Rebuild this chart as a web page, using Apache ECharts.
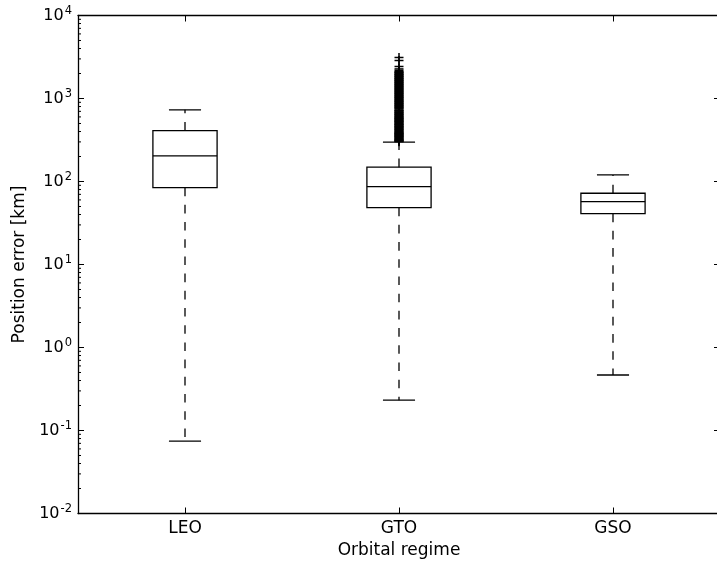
<!DOCTYPE html>
<html>
<head>
<meta charset="utf-8">
<script src="https://cdn.jsdelivr.net/npm/echarts@6/dist/echarts.min.js"></script>
<style>
  html, body { margin: 0; padding: 0; background: #fff; }
  #chart { width: 717px; height: 567px; }
</style>
</head>
<body>
<div id="chart"></div>
<script>
// Orbital regimes and their position-error box statistics (km)
const regimes = ['LEO', 'GTO', 'GSO'];
const whiskerLow = [0.0745, 0.232, 0.466];
const lowerQuartile = [84.4, 48.4, 41.0];
const medianError = [204, 86.7, 57.2];
const upperQuartile = [411, 149, 72.2];
const whiskerHigh = [730, 298, 120];

// Outliers beyond the upper whisker of the GTO regime (km)
const gtoOutliers = [302, 306, 309, 313, 317, 321, 326, 330, 336, 341, 347, 351, 355, 361, 366,
  372, 376, 380, 386, 391, 399, 405, 412, 420, 426, 433, 441, 448, 455, 461, 467, 478, 484, 490,
  498, 506, 517, 524, 531, 540, 548, 559, 566, 575, 583, 590, 604, 613, 622, 637, 646, 655, 671,
  680, 690, 708, 716, 726, 748, 765, 777, 789, 806, 819, 832, 851, 863, 877, 899, 911, 925, 948,
  960, 977, 1003, 1019, 1031, 1060, 1074, 1088, 1121, 1137, 1150, 1183, 1199, 1215, 1249, 1266,
  1286, 1318, 1337, 1357, 1392, 1411, 1434, 1470, 1490, 1512, 1553, 1574, 1597, 1640, 1661,
  1688, 1731, 1755, 1782, 1830, 1856, 1884, 1935, 1960, 1990, 2048, 2075, 2105, 2180, 2270,
  2430, 2870, 3120];
const outlierRegime = 'GTO';

// Log axis range (decades)
const yMin = 0.01;
const yMax = 10000;

const FONT = 'DejaVu Sans';
const LW = 1.3;

const boxData = regimes.map((r, i) =>
  [i, whiskerLow[i], lowerQuartile[i], medianError[i], upperQuartile[i], whiskerHigh[i]]);
const outlierIdx = regimes.indexOf(outlierRegime);
const outlierData = gtoOutliers.map(v => [outlierIdx, v]);

// minor tick positions: 2..9 x 10^k inside the axis range
const minorTickData = [];
for (let k = Math.round(Math.log10(yMin)); k < Math.round(Math.log10(yMax)); k++) {
  for (let m = 2; m <= 9; m++) minorTickData.push([0, m * Math.pow(10, k)]);
}

function renderBox(params, api) {
  const i = api.value(0);
  const lo = api.coord([i, api.value(1)]);
  const q1 = api.coord([i, api.value(2)]);
  const md = api.coord([i, api.value(3)]);
  const q3 = api.coord([i, api.value(4)]);
  const hi = api.coord([i, api.value(5)]);
  const band = api.coord([1, api.value(3)])[0] - api.coord([0, api.value(3)])[0];
  const half = band * 0.15, cap = band * 0.075;
  const x = q1[0];
  const solid = { stroke: '#000', lineWidth: LW, fill: 'none' };
  const dashed = { stroke: '#000', lineWidth: LW, fill: 'none', lineDash: [8.6, 8.6] };
  return {
    type: 'group',
    children: [
      { type: 'rect', shape: { x: x - half, y: q3[1], width: 2 * half, height: q1[1] - q3[1] }, style: solid },
      { type: 'line', shape: { x1: x - half, y1: md[1], x2: x + half, y2: md[1] }, style: solid },
      { type: 'line', shape: { x1: x, y1: q1[1], x2: x, y2: lo[1] }, style: dashed },
      { type: 'line', shape: { x1: x, y1: q3[1], x2: x, y2: hi[1] }, style: dashed },
      { type: 'line', shape: { x1: x - cap, y1: lo[1], x2: x + cap, y2: lo[1] }, style: solid },
      { type: 'line', shape: { x1: x - cap, y1: hi[1], x2: x + cap, y2: hi[1] }, style: solid }
    ]
  };
}

function renderPlus(params, api) {
  const p = api.coord([api.value(0), api.value(1)]);
  const h = 4.5;
  const st = { stroke: '#000', lineWidth: 1.5 };
  return {
    type: 'group',
    children: [
      { type: 'line', shape: { x1: p[0] - h, y1: p[1], x2: p[0] + h, y2: p[1] }, style: st },
      { type: 'line', shape: { x1: p[0], y1: p[1] - h, x2: p[0], y2: p[1] + h }, style: st }
    ]
  };
}

function renderMinorTick(params, api) {
  const cs = params.coordSys;
  const y = api.coord([0, api.value(1)])[1];
  const st = { stroke: '#000', lineWidth: 1 };
  const len = 3;
  return {
    type: 'group',
    children: [
      { type: 'line', shape: { x1: cs.x, y1: y, x2: cs.x + len, y2: y }, style: st },
      { type: 'line', shape: { x1: cs.x + cs.width - len, y1: y, x2: cs.x + cs.width, y2: y }, style: st }
    ]
  };
}

const chart = echarts.init(document.getElementById('chart'), null, { renderer: 'canvas' });

const tickStyle = { show: true, inside: true, length: 6, lineStyle: { color: '#000', width: 1 } };
const lineStyle = { show: true, lineStyle: { color: '#000', width: LW } };

chart.setOption({
  animation: false,
  backgroundColor: '#fff',
  textStyle: { fontFamily: FONT, color: '#000' },
  grid: { left: 78, top: 15.5, width: 642, height: 498, containLabel: false, outerBoundsMode: 'none' },
  xAxis: [
    {
      type: 'category', data: regimes, position: 'bottom',
      axisLine: lineStyle,
      axisTick: Object.assign({ alignWithLabel: true }, tickStyle),
      axisLabel: { color: '#000', fontSize: 17, fontFamily: FONT, margin: 7 },
      splitLine: { show: false },
      name: 'Orbital regime', nameLocation: 'middle', nameGap: 27,
      nameTextStyle: { color: '#000', fontSize: 17, fontFamily: FONT }
    },
    {
      type: 'category', data: regimes, position: 'top',
      axisLine: lineStyle,
      axisTick: Object.assign({ alignWithLabel: true }, tickStyle),
      axisLabel: { show: false },
      splitLine: { show: false }
    }
  ],
  yAxis: [
    {
      type: 'log', logBase: 10, min: yMin, max: yMax, interval: 1, position: 'left',
      axisLine: lineStyle,
      axisTick: tickStyle,
      splitLine: { show: false },
      axisLabel: {
        margin: 6,
        formatter: v => '{b|10}{s|' + Math.round(Math.log10(v)) + '}',
        rich: {
          b: { fontSize: 16, fontFamily: FONT, color: '#000', lineHeight: 20 },
          s: { fontSize: 11.5, fontFamily: FONT, color: '#000', lineHeight: 8, verticalAlign: 'top', padding: [0, 0, 0, 1] }
        }
      },
      name: 'Position error [km]', nameLocation: 'middle', nameGap: 47,
      nameTextStyle: { color: '#000', fontSize: 17, fontFamily: FONT }
    },
    {
      type: 'log', logBase: 10, min: yMin, max: yMax, interval: 1, position: 'right',
      axisLine: lineStyle,
      axisTick: tickStyle,
      splitLine: { show: false },
      axisLabel: { show: false }
    }
  ],
  series: [
    {
      type: 'custom', name: 'minor ticks', silent: true, clip: false,
      xAxisIndex: 0, yAxisIndex: 0,
      encode: { x: 0, y: 1 },
      data: minorTickData, renderItem: renderMinorTick
    },
    {
      type: 'custom', name: 'boxes', silent: true,
      xAxisIndex: 0, yAxisIndex: 0,
      encode: { x: 0, y: [1, 2, 3, 4, 5] },
      data: boxData, renderItem: renderBox
    },
    {
      type: 'custom', name: 'outliers', silent: true,
      xAxisIndex: 0, yAxisIndex: 0,
      encode: { x: 0, y: 1 },
      data: outlierData, renderItem: renderPlus
    }
  ]
});
</script>
</body>
</html>
